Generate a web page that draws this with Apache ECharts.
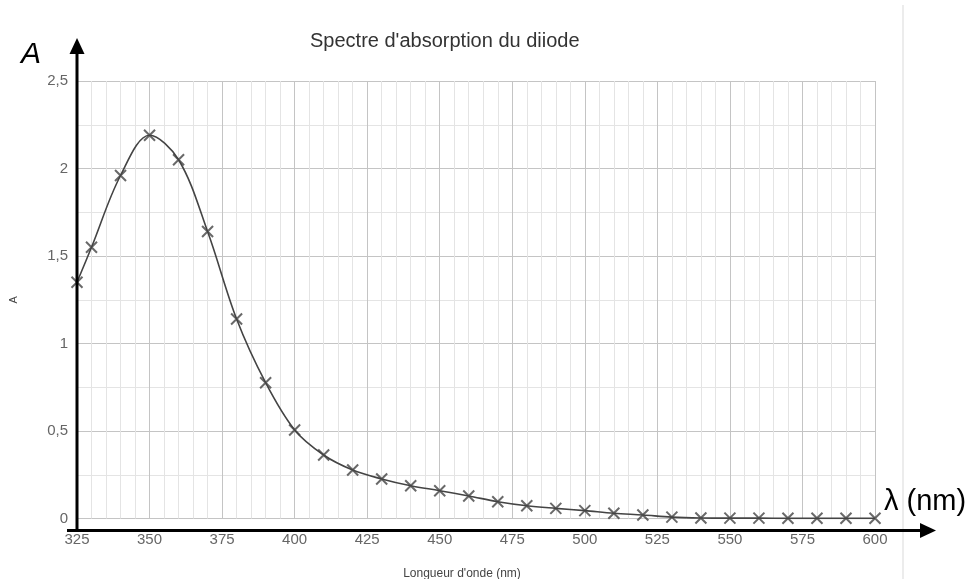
<!DOCTYPE html>
<html>
<head>
<meta charset="utf-8">
<script src="https://cdn.jsdelivr.net/npm/echarts@6/dist/echarts.min.js"></script>
<style>
html,body{margin:0;padding:0;background:#fff;}
#chart{width:975px;height:579px;}
</style>
</head>
<body>
<div id="chart"></div>
<script>
// ---- data ----
var titleText = "Spectre d'absorption du diiode";
var xAxisName = "Longueur d'onde (nm)";
var yAxisName = "A";
var wavelengths = [325,330,340,350,360,370,380,390,400,410,420,430,440,450,460,470,480,490,500,510,520,530,540,550,560,570,580,590,600];
var absorbance  = [1.35,1.55,1.96,2.19,2.05,1.64,1.14,0.776,0.506,0.363,0.277,0.226,0.187,0.159,0.129,0.096,0.073,0.058,0.045,0.030,0.020,0.008,0.003,0.002,0.002,0.001,0.001,0.001,0.001];
var xMin = 325, xMax = 600, xStep = 25;
var yMin = 0, yMax = 2.5, yStep = 0.5;

// ---- layout ----
var G = {left: 77, right: 100, top: 81, bottom: 60.5};
var W = 975, H = 579;
var plotLeft = G.left, plotBottom = H - G.bottom;

var points = wavelengths.map(function (w, i) { return [w, absorbance[i]]; });

var chart = echarts.init(document.getElementById('chart'), null, {renderer: 'canvas'});

var axisColor = '#000';
var option = {
  backgroundColor: '#fff',
  animation: false,
  title: {
    text: titleText,
    left: 310, top: 31, padding: 0,
    textStyle: {fontFamily: 'Liberation Sans, Arial, sans-serif', fontSize: 20, fontWeight: 'normal', color: '#333'}
  },
  grid: {left: G.left, right: G.right, top: G.top, bottom: G.bottom, show: false, containLabel: false, outerBoundsMode: 'none'},
  xAxis: {
    type: 'value', min: xMin, max: xMax, interval: xStep,
    name: xAxisName, nameLocation: 'middle', nameGap: 49,
    nameTextStyle: {fontFamily: 'Liberation Sans, Arial, sans-serif', fontSize: 12, color: '#444', padding: [0, 28, 0, 0]},
    axisLine: {show: false}, axisTick: {show: false},
    axisLabel: {margin: 14, fontFamily: 'Liberation Sans, Arial, sans-serif', fontSize: 15, color: '#666'},
    splitLine: {show: true, lineStyle: {color: '#c4c4c4', width: 1}},
    minorTick: {show: false, splitNumber: 5},
    minorSplitLine: {show: true, lineStyle: {color: '#e4e4e4', width: 1}}
  },
  yAxis: {
    type: 'value', min: yMin, max: yMax, interval: yStep,
    name: yAxisName, nameLocation: 'middle', nameGap: 58,
    nameTextStyle: {fontFamily: 'Liberation Sans, Arial, sans-serif', fontSize: 11, color: '#444'},
    axisLine: {show: false}, axisTick: {show: false},
    axisLabel: {margin: 9, fontFamily: 'Liberation Sans, Arial, sans-serif', fontSize: 15, color: '#666',
      formatter: function (v) { return String(v).replace('.', ','); }},
    splitLine: {show: true, lineStyle: {color: '#c4c4c4', width: 1}},
    minorTick: {show: false, splitNumber: 2},
    minorSplitLine: {show: true, lineStyle: {color: '#e4e4e4', width: 1}}
  },
  series: [
    {
      type: 'line', data: points, smooth: 0.35,
      symbol: 'none', lineStyle: {color: '#444', width: 1.6}, z: 3
    },
    {
      type: 'scatter', data: points,
      symbol: 'path://M0,0L10,10M10,0L0,10', symbolSize: 11,
      itemStyle: {color: 'rgba(0,0,0,0)', borderColor: '#444', borderWidth: 2}, z: 4
    }
  ],
  graphic: [
    {type: 'line', shape: {x1: 903, y1: 5, x2: 903, y2: H}, style: {stroke: '#ececec', lineWidth: 2}, silent: true},
    {type: 'line', shape: {x1: plotLeft, y1: 532, x2: plotLeft, y2: 52}, style: {stroke: axisColor, lineWidth: 3}, z: 100},
    {type: 'polygon', shape: {points: [[plotLeft - 7.5, 54], [plotLeft + 7.5, 54], [plotLeft, 38]]}, style: {fill: axisColor}, z: 100},
    {type: 'line', shape: {x1: 67, y1: 530.5, x2: 922, y2: 530.5}, style: {stroke: axisColor, lineWidth: 3}, z: 100},
    {type: 'polygon', shape: {points: [[920, 523], [920, 538], [936, 530.5]]}, style: {fill: axisColor}, z: 100},
    {type: 'text', left: 21, top: 40, style: {text: 'A', font: 'italic 30px "Liberation Sans", Arial, sans-serif', fill: '#000'}, z: 100},
    {type: 'text', left: 884, top: 487, style: {text: 'λ (nm)', font: '29px "Liberation Sans", Arial, sans-serif', fill: '#000'}, z: 100}
  ]
};
chart.setOption(option);
</script>
</body>
</html>
